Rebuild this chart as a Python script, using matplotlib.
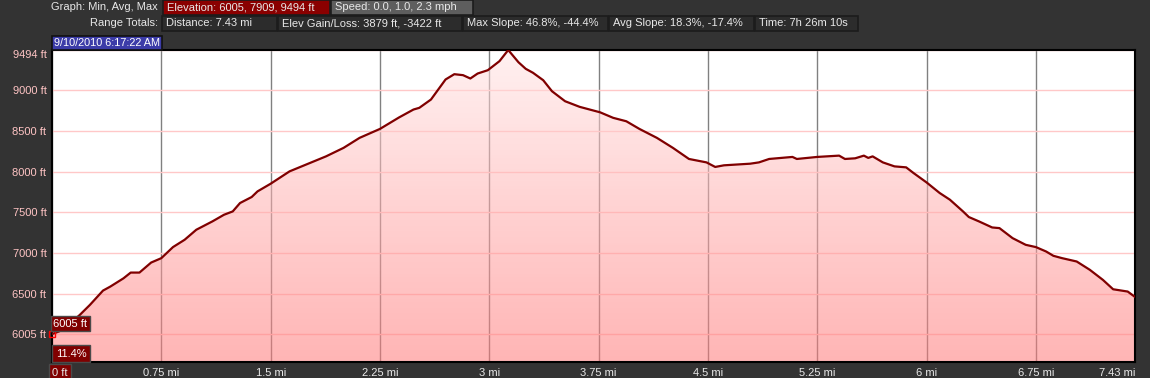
"""Perfil de elevación de una ruta (estilo visor GPS, fondo oscuro)."""

import numpy as np
import matplotlib.pyplot as plt
from matplotlib.colors import LinearSegmentedColormap
from matplotlib.patches import Polygon, Rectangle

# --- datos ----------------------------------------------------------------
distancia_mi = [
    0.00, 0.05, 0.12, 0.19, 0.26, 0.35, 0.40, 0.49, 0.54, 0.60, 0.68, 0.75,
    0.83, 0.91, 0.99, 1.10, 1.18, 1.24, 1.29, 1.37, 1.41, 1.50, 1.63, 1.77,
    1.88, 2.00, 2.11, 2.25, 2.38, 2.48, 2.52, 2.60, 2.65, 2.70, 2.76, 2.82,
    2.87, 2.92, 2.99, 3.07, 3.13, 3.20, 3.25, 3.30, 3.37, 3.43, 3.52, 3.62,
    3.76, 3.85, 3.94, 4.03, 4.15, 4.26, 4.37, 4.49, 4.55, 4.61, 4.79, 4.85,
    4.92, 5.08, 5.11, 5.25, 5.40, 5.44, 5.51, 5.57, 5.60, 5.63, 5.70, 5.78,
    5.86, 5.91, 6.00, 6.09, 6.16, 6.25, 6.29, 6.36, 6.45, 6.50, 6.59, 6.68,
    6.75, 6.82, 6.87, 6.93, 7.03, 7.12, 7.21, 7.28, 7.38, 7.43,
]
elevacion_ft = [
    6005, 6040, 6130, 6240, 6364, 6540, 6589, 6690, 6761, 6761, 6884, 6938,
    7074, 7164, 7287, 7389, 7471, 7512, 7615, 7689, 7758, 7852, 8004, 8107,
    8188, 8292, 8415, 8525, 8665, 8763, 8784, 8886, 9009, 9132, 9197, 9185,
    9144, 9205, 9246, 9357, 9494, 9344, 9263, 9214, 9123, 8988, 8865, 8796,
    8729, 8661, 8619, 8525, 8415, 8292, 8156, 8114, 8058, 8078, 8098, 8114,
    8156, 8181, 8156, 8181, 8197, 8156, 8164, 8197, 8169, 8188, 8114, 8065,
    8053, 7984, 7868, 7738, 7656, 7512, 7443, 7389, 7315, 7307, 7184, 7102,
    7074, 7020, 6967, 6938, 6897, 6795, 6671, 6556, 6528, 6462,
]

ticks_y = [6005, 6500, 7000, 7500, 8000, 8500, 9000, 9494]
ticks_x = [0, 0.75, 1.5, 2.25, 3, 3.75, 4.5, 5.25, 6, 6.75, 7.43]
etiquetas_x = ["0 ft", "0.75 mi", "1.5 mi", "2.25 mi", "3 mi", "3.75 mi",
               "4.5 mi", "5.25 mi", "6 mi", "6.75 mi", "7.43 mi"]

cabecera_1 = ["Elevation: 6005, 7909, 9494 ft", "Speed: 0.0, 1.0, 2.3 mph"]
cabecera_2 = ["Distance: 7.43 mi", "Elev Gain/Loss: 3879 ft, -3422 ft",
              "Max Slope: 46.8%, -44.4%", "Avg Slope: 18.3%, -17.4%",
              "Time: 7h 26m 10s"]
fecha = "9/10/2010 6:17:22 AM"
pendiente = "11.4%"

ANCHO, ALTO = 1150, 378
FONDO = "#333333"
ROJO = "#800000"
plt.rcParams["font.family"] = ["Liberation Sans", "DejaVu Sans"]

fig = plt.figure(figsize=(ANCHO / 100, ALTO / 100), dpi=100, facecolor=FONDO)


def caja(x0, y0, x1, y1, texto, fondo, borde="#1c1c1c", color="#e8e8e8",
         tam=8, margen=4):
    """Dibuja una caja de la cabecera en coordenadas de píxel (origen arriba)."""
    fig.patches.append(Rectangle(
        (x0 / ANCHO, 1 - y1 / ALTO), (x1 - x0) / ANCHO, (y1 - y0) / ALTO,
        transform=fig.transFigure, facecolor=fondo, edgecolor=borde,
        linewidth=1.2))
    fig.text((x0 + margen) / ANCHO, 1 - (y0 + y1) / 2 / ALTO, texto,
             color=color, fontsize=tam, ha="left", va="center")


fig.text(158 / ANCHO, 1 - 7.5 / ALTO, "Graph: Min, Avg, Max", color="#e8e8e8",
         fontsize=8, ha="right", va="center")
fig.text(158 / ANCHO, 1 - 23.5 / ALTO, "Range Totals:", color="#e8e8e8",
         fontsize=8, ha="right", va="center")
caja(163, 0, 330, 15, cabecera_1[0], "#8a0000")
caja(331, 0, 473, 15, cabecera_1[1], "#5e5e5e")
for (x0, x1), txt in zip([(162, 277), (278, 462), (463, 608), (609, 754),
                          (755, 858)], cabecera_2):
    caja(x0, 16, x1, 31, txt, "#2c2c2c")
caja(52, 36, 162, 50, fecha, "#3c3ca8", borde="#111111", color="white",
     tam=7.8, margen=2)

# --- eje principal ---------------------------------------------------------
ax = fig.add_axes([52 / ANCHO, 16 / ALTO, 1083 / ANCHO, 312 / ALTO])
ax.set_facecolor("white")
ax.set_xlim(0, 7.43)
ax.set_ylim(5663, 9494)

ax.set_axisbelow(True)
ax.xaxis.grid(True, color="#808080", linewidth=1)
ax.yaxis.grid(True, color="#ffc8c8", linewidth=1)

x = np.array(distancia_mi)
y = np.array(elevacion_ft)
ymin, ymax = ax.get_ylim()

# relleno con degradado vertical recortado bajo la curva
degradado = LinearSegmentedColormap.from_list("perfil", ["#ff7878", "#ffe6e6"])
im = ax.imshow(np.linspace(0, 1, 256).reshape(-1, 1), cmap=degradado,
               origin="lower", aspect="auto", alpha=0.55,
               extent=[x[0], x[-1], ymin, ymax], zorder=2)
vertices = np.vstack([np.column_stack([x, y]), [[x[-1], ymin], [x[0], ymin]]])
recorte = Polygon(vertices, closed=True, facecolor="none", edgecolor="none",
                  transform=ax.transData)
ax.add_patch(recorte)
im.set_clip_path(recorte)

ax.plot(x, y, color=ROJO, linewidth=1.6, zorder=3)
ax.plot(x[0], y[0], marker="s", markersize=4.5, markerfacecolor="none",
        markeredgecolor="red", markeredgewidth=1, zorder=5, clip_on=False)

caja_roja = dict(boxstyle="square,pad=0.22", facecolor=ROJO, edgecolor="#4a4a4a",
                 linewidth=1)
ax.annotate(f"{y[0]:.0f} ft", xy=(x[0], y[0]), xytext=(1, 4),
            textcoords="offset points", color="white", fontsize=8,
            ha="left", va="bottom", bbox=caja_roja, zorder=6)
ax.annotate(pendiente, xy=(x[0], 0), xycoords=("data", "axes fraction"),
            xytext=(2.8, 2.5), textcoords="offset points", color="white",
            fontsize=8, ha="left", va="bottom",
            bbox=dict(caja_roja, boxstyle="square,pad=0.35"), zorder=6)

ax.set_yticks(ticks_y)
ax.set_yticklabels([f"{v} ft" for v in ticks_y])
ax.set_xticks(ticks_x)
ax.set_xticklabels(etiquetas_x)
ax.tick_params(axis="y", length=0, pad=4, labelsize=8, labelcolor="#ffc4c4")
ax.tick_params(axis="x", length=0, pad=4, labelsize=8, labelcolor="#e8e8e8")
ax.get_yticklabels()[-1].set_va("top")
etq_x = ax.get_xticklabels()
etq_x[0].set_ha("left")
etq_x[0].set_bbox(dict(boxstyle="square,pad=0.3", facecolor=ROJO,
                       edgecolor="#4a4a4a", linewidth=1))
etq_x[-1].set_ha("right")

for lado in ax.spines.values():
    lado.set_color("black")
    lado.set_linewidth(1.5)

fig.savefig("out.png", dpi=100, facecolor=fig.get_facecolor())
plt.close(fig)
